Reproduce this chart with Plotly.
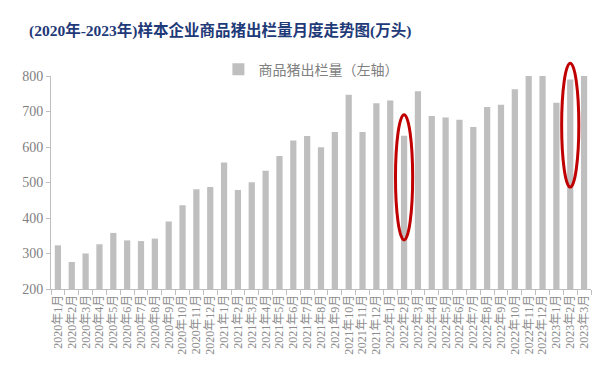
import plotly.graph_objects as go

months = [f"{y}年{m}月" for y, m in
          [(2020, i) for i in range(1, 13)] + [(2021, i) for i in range(1, 13)] +
          [(2022, i) for i in range(1, 13)] + [(2023, i) for i in range(1, 4)]]

output = [323, 276, 300, 326, 358, 337, 335, 342, 390, 436, 481, 487,
          556, 479, 501, 533, 575, 618, 631, 599, 642, 747, 642, 723,
          731, 632, 757, 687, 683, 677, 656, 713, 719, 763, 800, 800,
          725, 790, 800]

series_name = "商品猪出栏量（左轴）"
title_text = "(2020年-2023年)样本企业商品猪出栏量月度走势图(万头)"

y_min, y_max = 200, 800
# highlighted months: (category index, ellipse low value, ellipse high value)
highlights = [(25, 338, 691), (37, 487, 836)]

fig = go.Figure()
fig.add_trace(go.Bar(x=months, y=output, name=series_name,
                     marker=dict(color="#BFBFBF", line=dict(width=0)),
                     width=0.45))

for idx, lo, hi in highlights:
    fig.add_shape(type="circle", xref="x", yref="paper",
                  x0=idx - 0.62, x1=idx + 0.62,
                  y0=(lo - y_min) / (y_max - y_min), y1=(hi - y_min) / (y_max - y_min),
                  line=dict(color="#C00000", width=3), layer="above")

fig.update_layout(
    width=600, height=383,
    margin=dict(l=43, r=17, t=68, b=102),
    paper_bgcolor="white", plot_bgcolor="white",
    title=dict(text=title_text, x=0.035, xanchor="left", y=0.94, yanchor="middle",
               font=dict(family="Liberation Serif, Noto Sans CJK SC", size=15.5,
                         color="#1F3A78", weight="bold")),
    showlegend=True,
    legend=dict(orientation="h", x=0.31, xanchor="left", y=1.03, yanchor="middle",
                font=dict(family="Noto Sans CJK SC", size=14, color="#808080"),
                bgcolor="rgba(0,0,0,0)", itemwidth=30),
    bargap=0.5,
)

fig.update_xaxes(type="category", tickangle=-90, tickson="boundaries",
                 tickmode="array", tickvals=months, ticktext=months,
                 ticks="outside", ticklen=5, tickcolor="#BFBFBF",
                 showline=True, linecolor="#BFBFBF", linewidth=1,
                 showgrid=False,
                 tickfont=dict(family="Liberation Serif, Noto Sans CJK SC", size=12,
                               color="#8C8C8C"))
fig.update_yaxes(range=[y_min, y_max], dtick=100, ticks="outside", ticklen=4,
                 tickcolor="#BFBFBF", showline=True, linecolor="#BFBFBF",
                 linewidth=1, showgrid=False, zeroline=False,
                 tickfont=dict(family="Liberation Serif", size=14, color="#7F7F7F"))

fig.write_html("out.html")
